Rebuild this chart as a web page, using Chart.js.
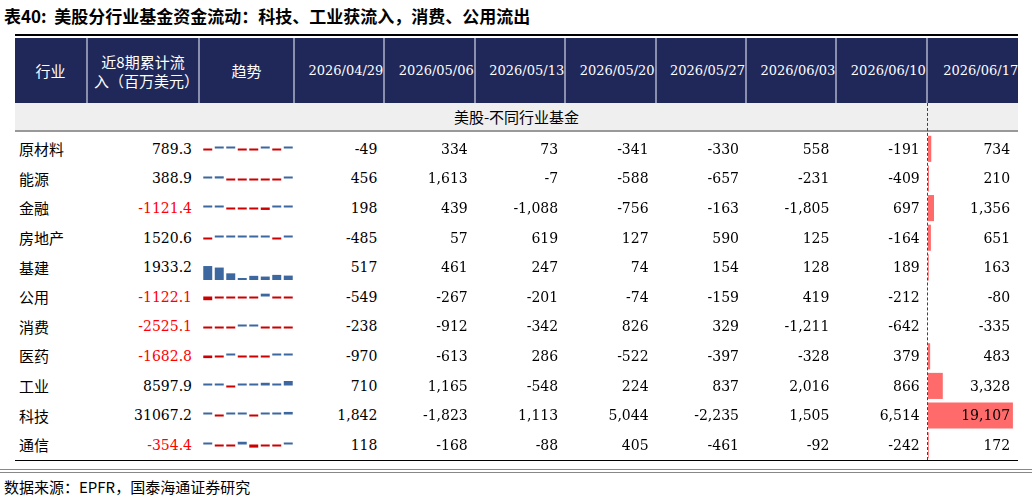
<!DOCTYPE html>
<html><head><meta charset="utf-8">
<script src="https://cdn.jsdelivr.net/npm/chart.js@4"></script>
<style>
body{margin:0;background:#fff;width:1032px;height:501px;position:relative;overflow:hidden;font-family:"Noto Sans CJK SC",sans-serif;}
.abs{position:absolute;box-sizing:border-box;}
.title{left:4px;top:3px;font-size:17px;font-weight:bold;color:#000;}
.hd{background:#20285a;color:#fff;display:flex;align-items:center;justify-content:center;text-align:center;font-size:15px;line-height:19px;border-right:2px solid #8a8fae;}
.hd.num{font-family:"DejaVu Serif",serif;font-size:13px;padding:0;}
.cell{height:29.6px;display:flex;align-items:center;font-size:15px;}
.num{font-family:"DejaVu Serif",serif;font-size:14px;justify-content:flex-end;padding-right:8px;}
.red{color:#ff0000;}
</style></head><body>
<div class="abs title">表40:&nbsp; 美股分行业基金资金流动：科技、工业获流入，消费、公用流出</div>
<div class="abs" style="left:15px;top:34px;width:1003px;height:2px;background:#000"></div>
<div id="root"></div>
<script>
const industries = ['原材料','能源','金融','房地产','基建','公用','消费','医药','工业','科技','通信'];
const dates = ['2026/04/29','2026/05/06','2026/05/13','2026/05/20','2026/05/27','2026/06/03','2026/06/10','2026/06/17'];
const cumulative = [789.3,388.9,-1121.4,1520.6,1933.2,-1122.1,-2525.1,-1682.8,8597.9,31067.2,-354.4];
const weekly = [
  [-49,334,73,-341,-330,558,-191,734],
  [456,1613,-7,-588,-657,-231,-409,210],
  [198,439,-1088,-756,-163,-1805,697,1356],
  [-485,57,619,127,590,125,-164,651],
  [517,461,247,74,154,128,189,163],
  [-549,-267,-201,-74,-159,419,-212,-80],
  [-238,-912,-342,826,329,-1211,-642,-335],
  [-970,-613,286,-522,-397,-328,379,483],
  [710,1165,-548,224,837,2016,866,3328],
  [1842,-1823,1113,5044,-2235,1505,6514,19107],
  [118,-168,-88,405,-461,-92,-242,172]
];
const lastWeek = weekly.map(r => r[7]);

const root = document.getElementById('root');
const colX = [15,88,200,295];
for (let i = 1; i <= 8; i++) colX.push(295 + i * 90.4);
const rowTop = 134, rowH = 29.6;

function add(cls, style, html) {
    const d = document.createElement('div');
    d.className = 'abs ' + cls;
    d.style.cssText = style;
    d.innerHTML = html || '';
    root.appendChild(d);
    return d;
}
function fmt(v) { return v.toLocaleString('en-US'); }

// ヘッダー
const heads = ['行业','近8期累计流入（百万美元）','趋势'].concat(dates);
heads.forEach((h, i) => {
    const w = colX[i + 1] - colX[i];
    add('hd' + (i > 2 ? ' num' : ''), `left:${colX[i]}px;top:38px;width:${w}px;height:65px;` + (i == 10 ? 'border-right:none;' : '') + (i == 1 ? 'padding:0 6px;' : ''), h);
});
add('', 'left:15px;top:103px;width:1003px;height:29px;background:#efefef;border-bottom:2px solid #999;display:flex;align-items:center;justify-content:center;font-size:15px;', '美股-不同行业基金');

// 最終列のデータバー
add('', `left:${colX[10]}px;top:${rowTop}px;`, `<canvas id="lastBar" width="92" height="${Math.round(rowH * 11)}"></canvas>`);
add('', `left:${colX[10] - 1}px;top:103px;width:0;height:${rowTop + rowH * 11 - 103}px;border-left:1.5px dashed #e00000;`);

industries.forEach((name, r) => {
    const top = rowTop + r * rowH;
    add('cell', `left:${colX[0] + 4}px;top:${top}px;width:70px;`, name);
    add('cell num' + (cumulative[r] < 0 ? ' red' : ''), `left:${colX[1]}px;top:${top}px;width:112px;`, cumulative[r].toFixed(1));
    add('', `left:${colX[2] + 2}px;top:${top + 1}px;`, `<canvas id="spark${r}" width="92" height="${Math.round(rowH - 3)}"></canvas>`);
    weekly[r].forEach((v, c) => {
        add('cell num', `left:${colX[3 + c]}px;top:${top}px;width:90.4px;z-index:2;`, fmt(v));
    });
});
add('', `left:15px;top:${rowTop + rowH * 11}px;width:1003px;height:1.5px;background:#000`);
add('', `left:0;top:${rowTop + rowH * 11 + 9}px;width:1032px;height:4px;border-top:1px solid #888;border-bottom:1px solid #888;`);
add('', `left:4px;top:${rowTop + rowH * 11 + 16}px;font-size:15px;`, '数据来源：EPFR，国泰海通证券研究');

const blue = '#3c679f', red = '#cc0000';
industries.forEach((name, r) => {
    new Chart(document.getElementById('spark' + r), {
        type: 'bar',
        data: {
            labels: dates,
            datasets: [{
                data: weekly[r],
                backgroundColor: weekly[r].map(v => v < 0 ? red : blue),
                categoryPercentage: 1,
                barPercentage: 0.78,
                minBarLength: 2
            }]
        },
        options: {
            responsive: false, animation: false, devicePixelRatio: 1,
            plugins: { legend: { display: false }, tooltip: { enabled: false } },
            scales: {
                x: { display: false },
                y: { display: false, beginAtZero: true }
            }
        }
    });
});

new Chart(document.getElementById('lastBar'), {
    type: 'bar',
    data: {
        labels: industries,
        datasets: [{
            data: lastWeek,
            backgroundColor: '#ff6b6b',
            categoryPercentage: 1,
            barPercentage: 0.88
        }]
    },
    options: {
        indexAxis: 'y',
        responsive: false, animation: false, devicePixelRatio: 1,
        layout: { padding: 0 },
        plugins: { legend: { display: false }, tooltip: { enabled: false } },
        scales: {
            x: { display: false, min: 0, max: 20700 },
            y: { display: false }
        }
    }
});
</script>
</body></html>
